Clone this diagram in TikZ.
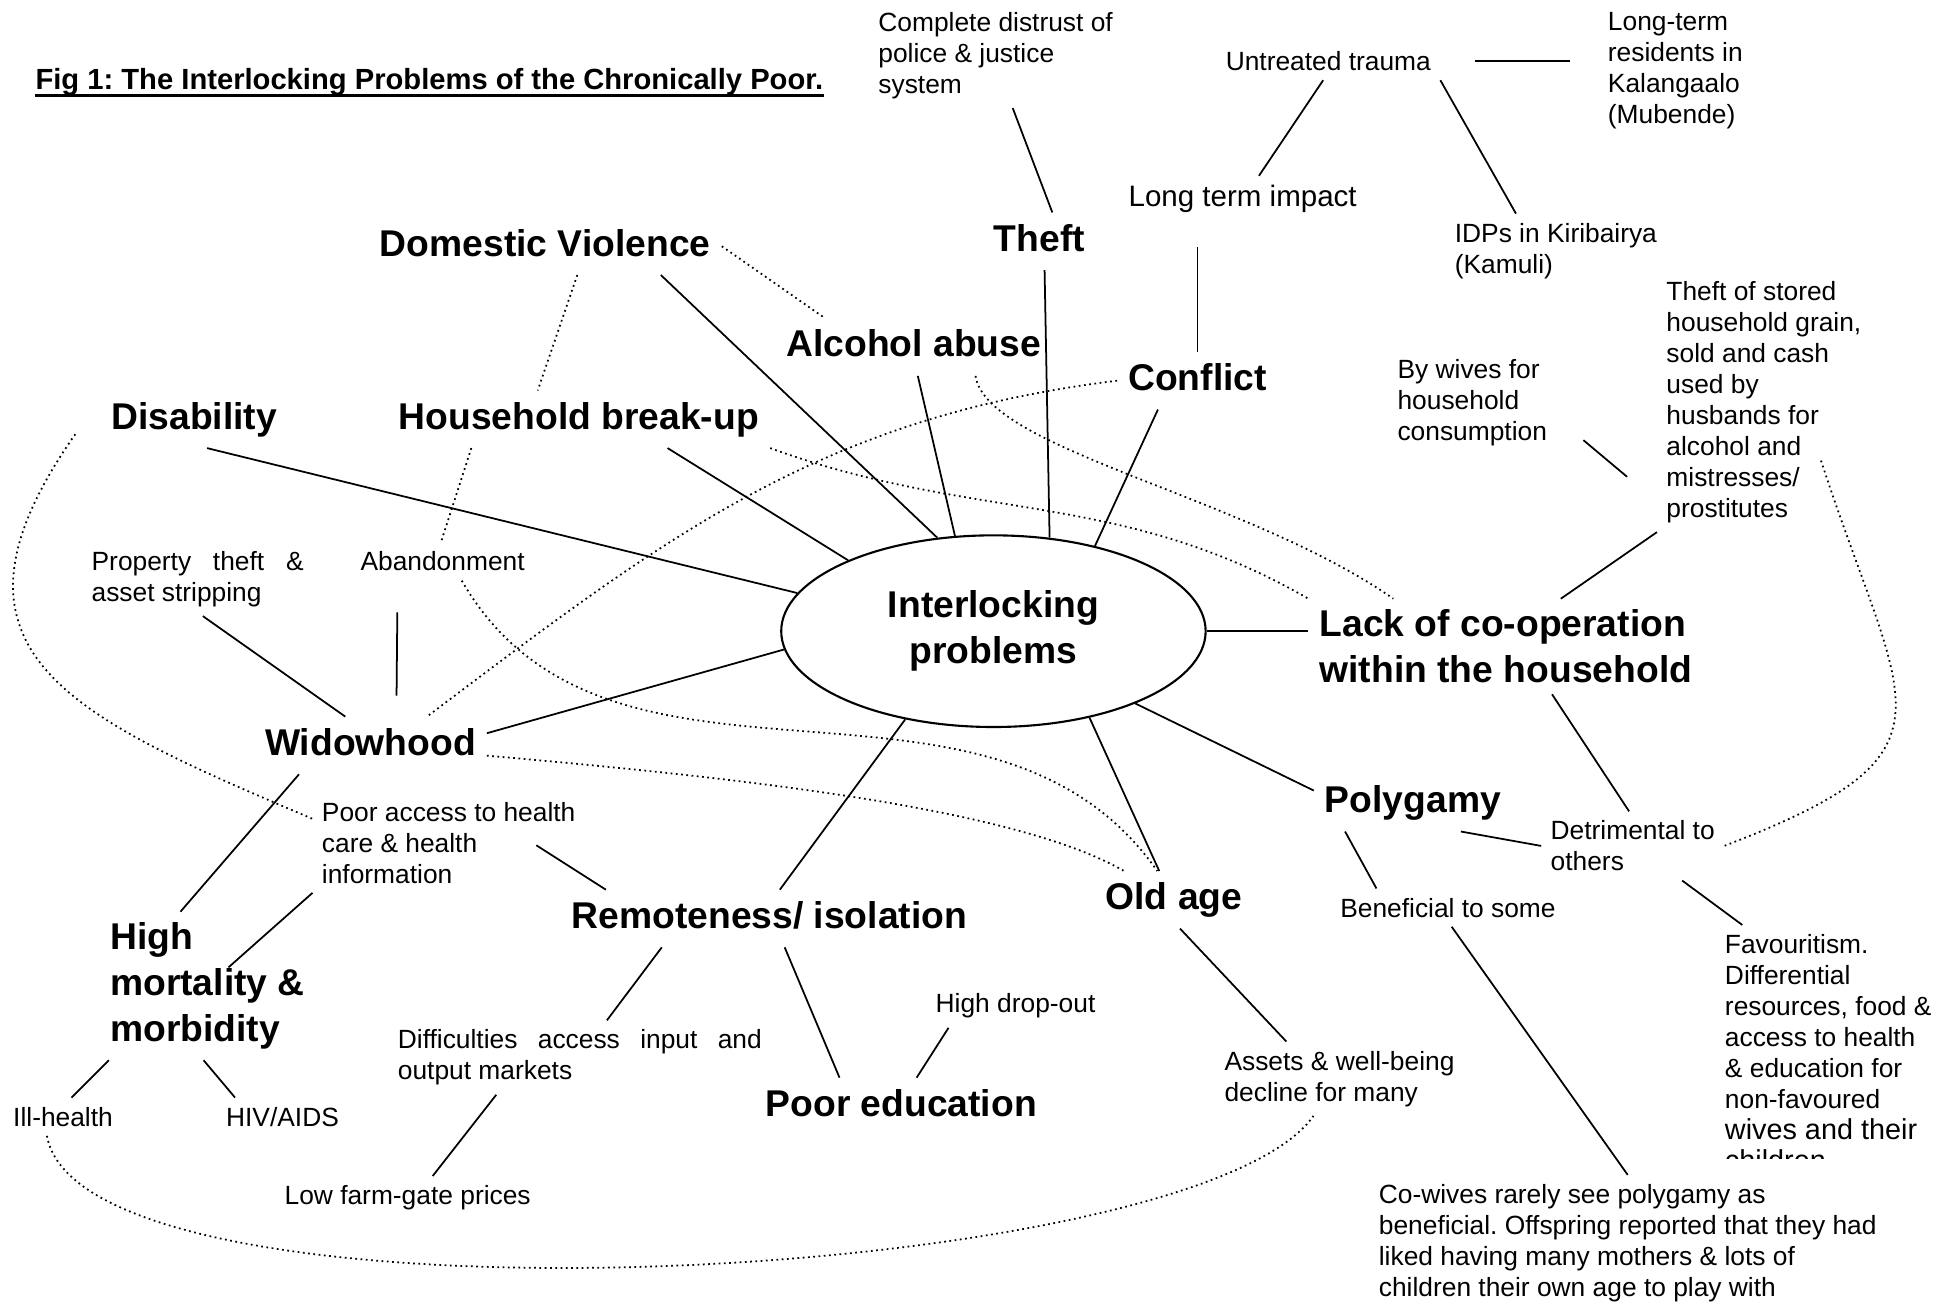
\documentclass[tikz,border=0pt]{standalone}
\usepackage{fontspec}
\setmainfont{Liberation Sans}
\usetikzlibrary{shapes.geometric, calc}
\frenchspacing

\begin{document}
\begin{tikzpicture}[x=0.01245cm, y=-0.01245cm,
    prob/.style={font=\bfseries\fontsize{10.6}{13}\selectfont, inner sep=3pt},
    probone/.style={prob, anchor=base, text height=7.8pt, text depth=2.2pt},
    note/.style={font=\fontsize{7.5}{8.8}\selectfont, inner sep=2.5pt, align=left},
    noteone/.style={note, anchor=base west},
    link/.style={line width=0.5pt},
    hint/.style={line width=0.5pt, densely dotted}]
    \useasboundingbox (0,0) rectangle (1568,1047);

    % Title
    \node[anchor=base west, inner sep=0pt, font=\bfseries\fontsize{8.3}{10}\selectfont] (title) at (28,71.7) {Fig 1: The Interlocking Problems of the Chronically Poor.};
    \draw[line width=0.75pt] ([yshift=-1.8pt]title.base west) -- ([yshift=-1.8pt]title.base east);

    % Centre
    \node[prob, draw, line width=0.6pt, shape=ellipse, inner sep=0pt, align=center,
          minimum width=4.245cm, minimum height=1.917cm] (ell) at (798,507) {Interlocking\\problems};

    % Problems
    \node[probone] (dv) at (438,205.7) {Domestic Violence};
    \node[probone] (theft) at (835,201.7) {Theft};
    \node[probone] (alco) at (734,286.7) {Alcohol abuse};
    \node[probone] (confl) at (962,313.7) {Conflict};
    \node[probone] (disab) at (156,344.7) {Disability};
    \node[probone] (hbreak) at (465,344.7) {Household break-up};
    \node[probone] (widow) at (297.5,606.7) {Widowhood};
    \node[probone] (polyg) at (1135,652.7) {Polygamy};
    \node[probone] (oldage) at (943,730.7) {Old age};
    \node[probone] (remote) at (618,745.7) {Remoteness/ isolation};
    \node[probone] (poored) at (724,896.7) {Poor education};
    \node[prob, align=left, anchor=west] (lack) at (1051,519.3) {Lack of co-operation\\within the household};
    \node[prob, align=left, anchor=west] (highmort) at (79.5,792) {High\\mortality \&\\morbidity};

    % Notes, top
    \node[note, anchor=west] (distrust) at (698,44.5) {Complete distrust of\\police \& justice\\system};
    \node[noteone] (trauma) at (977,56.6) {Untreated trauma};
    \node[note, anchor=west] (longres) at (1284,57) {Long-term\\residents in\\Kalangaalo\\(Mubende)};
    \node[noteone, font=\fontsize{8.4}{9.6}\selectfont] (impact) at (899,166) {Long term impact};
    \node[note, anchor=west] (idp) at (1161,201.5) {IDPs in Kiribairya\\(Kamuli)};
    \node[note, anchor=west] (stored) at (1331,323) {Theft of stored\\household grain,\\sold and cash\\used by\\husbands for\\alcohol and\\mistresses/\\prostitutes};
    \node[note, anchor=west] (bywives) at (1115,323.5) {By wives for\\household\\consumption};
    \coordinate (wivesend) at (1307,383);

    % Notes, left
    \node[note, anchor=west] (property) at (66,465) {\makebox[2.12cm][s]{Property theft \&}\\asset stripping};
    \node[noteone] (abandon) at (282,458.6) {Abandonment};
    \node[note, anchor=west] (poorac) at (251,677) {Poor access to health\\care \& health\\information};
    \node[noteone] (illh) at (3,904.6) {Ill-health};
    \node[noteone] (hiv) at (174,904.6) {HIV/AIDS};
    \node[note, anchor=west] (diffic) at (312,849.5) {\makebox[3.64cm][s]{Difficulties access input and}\\output markets};
    \node[noteone] (lowfarm) at (221,967.6) {Low farm-gate prices};
    \node[noteone] (dropout) at (744,813.6) {High drop-out};

    % Notes, right
    \node[note, anchor=west] (assets) at (976,866.5) {Assets \& well-being\\decline for many};
    \node[noteone] (benef) at (1069,736.6) {Beneficial to some};
    \node[note, anchor=west] (detrim) at (1238,679.5) {Detrimental to\\others};
    \begin{scope}
        \clip (1370,735) rectangle (1565,930.5);
        \node[note, anchor=north west] (favour) at (1378,743) {Favouritism.\\Differential\\resources, food \&\\access to health\\\& education for\\non-favoured\\{\fontsize{8.2}{9.6}\selectfont wives and their}\\{\fontsize{8.2}{9.6}\selectfont children}};
    \end{scope}
    \node[note, anchor=west] (cowives) at (1100,998.5) {Co-wives rarely see polygamy as\\beneficial. Offspring reported that they had\\liked having many mothers \& lots of\\children their own age to play with};

    % Links to the centre
    \draw[link] (dv.-14) -- (ell.121);
    \draw[link] (alco.-82) -- (ell.112);
    \draw[link] (theft.-80) -- (ell.59);
    \draw[link] (confl.-144) -- (ell.40);
    \draw[link] (hbreak.-18) -- (ell.154);
    \draw[link] (disab.-66) -- (ell.169);
    \draw[link] (ell.east) -- (ell.east -| lack.west);
    \draw[link] (ell.-27) -- (polyg.173);
    \draw[link] (ell.-42) -- (oldage.117);
    \draw[link] (ell.225) -- (remote.70);
    \draw[link] (ell.185) -- (widow.6);

    % Top branches
    \draw[link] (distrust.-72) -- (theft.66);
    \draw[link, shorten <=10pt, shorten >=8pt] (trauma.east) -- (trauma.east -| longres.west);
    \draw[link] (trauma.-105) -- (impact.55);
    \draw[link] (trauma.south east) -- (idp.137);
    \draw[link, shorten <=7pt] (confl.north |- impact.south) -- (confl.north);

    % Right branches
    \draw[link] (stored.south west) -- (lack.41);
    \draw[link, shorten <=10pt] (bywives.-10) -- (wivesend);
    \draw[link] (lack.-46) -- (detrim.96);
    \draw[link] (polyg.-157) -- (benef.165);
    \draw[link] (polyg.-31) -- (detrim.west);
    \draw[link] (detrim.-35) -- (favour.124);
    \draw[link] (benef.-79) -- (cowives.north);
    \draw[link] (oldage.-78) -- (assets.145);

    % Bottom and left branches
    \draw[link] (remote.-165) -- (diffic.54);
    \draw[link] (remote.-62) -- (poored.155);
    \draw[link] (dropout.-162) -- (poored.62);
    \draw[link] (diffic.-156) -- (lowfarm.41);
    \draw[link, shorten <=9pt, shorten >=6pt] ([xshift=-.45cm]abandon.south) -- ([xshift=.26cm]widow.north);
    \draw[link] (property.-82) -- (widow.131);
    \draw[link] (widow.-158) -- (highmort.110);
    \draw[link, shorten >=8pt] (poorac.south west) -- (highmort.center);
    \draw[link] ($(poorac.east)+(-39,2)$) -- (remote.170);
    \draw[link] (highmort.-143) -- (illh.66);
    \draw[link] (highmort.-93) -- (hiv.158);

    % Dotted cross-links
    \draw[hint] (dv.east) -- (alco.162);
    \draw[hint] (dv.-42) -- (hbreak.145);
    \draw[hint] (hbreak.-165) -- (abandon.95);
    \draw[hint] (confl.west) to[out=187, in=37] (widow.27);
    \draw[hint] (hbreak.south east) to[out=-20, in=150] (lack.north west);
    \draw[hint] (alco.-25) to[out=-82, in=145, out looseness=.4, in looseness=.96] (lack.157);
    \draw[hint] (abandon.-45) to[out=-60, in=125] (oldage.120);
    \draw[hint] (widow.-5) to[out=-5, in=150, in looseness=.5] (oldage.150);
    \draw[hint] ($(disab.west)+(-20,12)$) to[out=235, in=157, looseness=1.5] (poorac.170);
    \draw[hint] (illh.-130) to[out=-80, in=-125, out distance=2.08cm, in distance=2.08cm] (assets.-125);
    \draw[hint] ($(stored.east)+(-40,47)$) to[out=-72, in=21, looseness=1.7] (detrim.east);
\end{tikzpicture}
\end{document}
